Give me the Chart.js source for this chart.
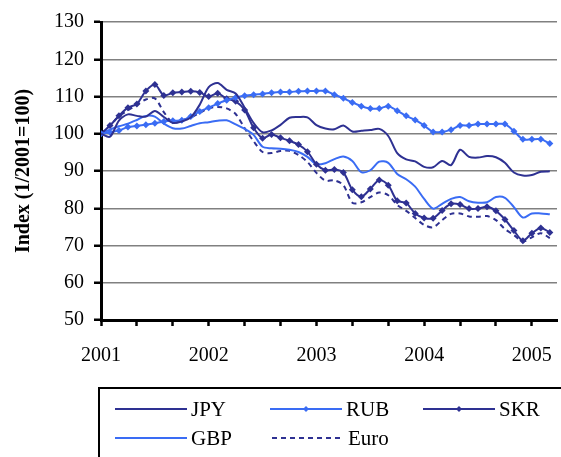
<!DOCTYPE html>
<html>
<head>
<meta charset="utf-8">
<script src="https://cdn.jsdelivr.net/npm/chart.js@4"></script>
<style>
  html, body { margin: 0; padding: 0; background: #fff; }
  canvas { display: block; }
</style>
</head>
<body>
<canvas id="fxChart" width="561" height="457"></canvas>
<script>
// --- Data: monthly index values, Jan 2001 = 100 ---
const yearLabels = ['2001', '2002', '2003', '2004', '2005'];
const seriesNames = ['JPY', 'RUB', 'SKR', 'GBP', 'Euro'];

const jpy = [100, 99.2, 103.5, 105.2, 104.8, 104.6, 106.1, 104.5, 102.9, 103.3, 104.4, 107.8,
  112.5, 113.6, 111.8, 110.8, 107, 102.9, 100.4, 100.9, 102.4, 104.3, 104.5, 104.4,
  102.3, 101.4, 101.2, 102.2, 100.6, 100.8, 101, 101.3, 99.4, 94.8, 93.1, 92.6,
  91.1, 91, 92.7, 91.6, 95.7, 93.8, 93.6, 94, 93.7, 92.2, 89.6, 88.8,
  88.9, 89.8, 89.9];
const rub = [100, 100.4, 100.9, 101.8, 102.1, 102.4, 102.8, 103.3, 103.5, 103.6, 104.6, 106,
  107, 108.1, 109, 109.7, 110.2, 110.5, 110.7, 111, 111.2, 111.2, 111.4, 111.5,
  111.5, 111.5, 110.5, 109.5, 108.4, 107.4, 106.8, 106.8, 107.4, 106.2, 104.8, 103.7,
  102.2, 100.5, 100.5, 101.1, 102.2, 102.2, 102.6, 102.6, 102.6, 102.6, 100.7, 98.5,
  98.5, 98.5, 97.4];
const skr = [100, 102.2, 104.8, 107, 108, 111.5, 113.2, 110.3, 111, 111.2, 111.4, 111.1,
  110, 110.9, 109.4, 108.7, 106.4, 101.6, 98.8, 99.8, 98.9, 98.1, 97.1, 95.2,
  91.8, 90.2, 90.4, 89.6, 85, 83.1, 85.2, 87.6, 86.2, 82, 81.4, 78.6,
  77.4, 77.3, 79.4, 81.2, 81, 79.9, 79.9, 80.4, 79.3, 77, 74, 71.3,
  73.3, 74.7, 73.5];
const gbp = [100, 101.1, 102, 102.7, 103.7, 104.8, 104.6, 102.7, 101.5, 101.4, 102.1, 102.8,
  103.1, 103.5, 103.6, 102.5, 101.3, 99.7, 96.5, 96.1, 96, 95.7, 95.1, 93.8,
  91.8, 92.1, 93.2, 93.9, 92.7, 89.7, 90.2, 92.5, 92.2, 89.2, 87.8, 85.8,
  82.5, 79.9, 81.2, 82.5, 83, 81.9, 81.5, 81.6, 83, 82.8, 80.3, 77.5,
  78.6, 78.6, 78.4];
const euro = [100, 102.2, 104.7, 106.3, 107.8, 109.2, 109.5, 105.8, 103, 103.6, 104.4, 105.6,
  106.8, 107.2, 106.8, 105.3, 101.5, 98, 95.1, 94.8, 95.4, 95.4, 94.3, 92.4,
  89.5, 87.4, 87.5, 86.2, 81.5, 81.6, 83, 84.2, 83.5, 80.9, 79.3, 77.4,
  75.5, 74.9, 76.8, 78.5, 78.6, 77.8, 77.7, 77.9, 76.8, 74.4, 72.8, 71.1,
  72.2, 73.3, 72];

const navy = '#2e3192';
const blue = '#3a6cf4';
const serif = '"Liberation Serif", "DejaVu Serif", serif';

// month index -> {x, y}
function toPoints(values) {
  return values.map((v, i) => ({ x: i, y: v }));
}

// Legenda desenhada à mão (caixa com duas linhas, como no original)
const boxLegend = {
  id: 'boxLegend',
  afterDraw(chart) {
    const ctx = chart.ctx;
    ctx.save();
    ctx.strokeStyle = '#000';
    ctx.lineWidth = 2;
    ctx.strokeRect(99, 388, 480, 100);

    const slots = [[115, 409], [270, 409], [423, 409], [115, 438], [272, 438]];
    chart.data.datasets.forEach((ds, k) => {
      const [x, y] = slots[k];
      ctx.strokeStyle = ds.borderColor;
      ctx.lineWidth = ds.borderWidth;
      ctx.setLineDash(ds.borderDash || []);
      ctx.beginPath();
      ctx.moveTo(x, y);
      ctx.lineTo(x + 72, y);
      ctx.stroke();
      ctx.setLineDash([]);
      if (ds.pointRadius > 0) {
        ctx.fillStyle = ds.borderColor;
        ctx.beginPath();
        ctx.moveTo(x + 36, y - 3);
        ctx.lineTo(x + 39, y);
        ctx.lineTo(x + 36, y + 3);
        ctx.lineTo(x + 33, y);
        ctx.closePath();
        ctx.fill();
      }
      ctx.fillStyle = '#000';
      ctx.font = '21px ' + serif;
      ctx.textBaseline = 'middle';
      ctx.fillText(ds.label, x + 76, y + 1);
    });
    ctx.restore();
  }
};

const whiteBg = {
  id: 'whiteBg',
  beforeDraw(chart) {
    const ctx = chart.ctx;
    ctx.save();
    ctx.fillStyle = '#fff';
    ctx.fillRect(0, 0, chart.width, chart.height);
    ctx.restore();
  }
};

function lineSet(label, values, color, extra) {
  return Object.assign({
    label: label,
    data: toPoints(values),
    borderColor: color,
    backgroundColor: color,
    borderWidth: 2,
    pointRadius: 0,
    tension: 0.3,
    fill: false
  }, extra || {});
}

const ctx = document.getElementById('fxChart').getContext('2d');
new Chart(ctx, {
  type: 'line',
  data: {
    datasets: [
      lineSet(seriesNames[0], jpy, navy),
      lineSet(seriesNames[1], rub, blue, { pointRadius: 3.5, pointStyle: 'rectRot', pointBorderWidth: 0 }),
      lineSet(seriesNames[2], skr, navy, { pointRadius: 3.5, pointStyle: 'rectRot', pointBorderWidth: 0 }),
      lineSet(seriesNames[3], gbp, blue),
      lineSet(seriesNames[4], euro, navy, { borderDash: [5, 4] })
    ]
  },
  plugins: [whiteBg, boxLegend],
  options: {
    responsive: false,
    animation: false,
    devicePixelRatio: 1,
    layout: { padding: { top: 22, right: 0, left: 0, bottom: 0 } },
    plugins: {
      legend: { display: false },
      tooltip: { enabled: false }
    },
    scales: {
      x: {
        type: 'linear',
        min: 0,
        max: 50.8,
        afterBuildTicks: (scale) => {
          const t = [];
          for (let v = 0; v <= 48; v += 4) t.push({ value: v });
          scale.ticks = t;
        },
        afterFit: (scale) => {
          scale.height = 137;
          scale.paddingRight = 0; // o gráfico original é cortado na borda direita
        },
        ticks: {
          autoSkip: false,
          maxRotation: 0,
          padding: 18,
          color: '#000',
          font: { family: serif, size: 20 },
          callback: (v) => (v % 12 === 0 ? yearLabels[v / 12] : '')
        },
        grid: {
          drawOnChartArea: false,
          drawTicks: true,
          tickLength: 6,
          tickColor: '#000',
          tickWidth: 2.5
        },
        border: { color: '#000', width: 3 }
      },
      y: {
        min: 50,
        max: 130,
        afterFit: (scale) => { scale.width = 101; },
        ticks: {
          stepSize: 10,
          padding: 10,
          color: '#000',
          font: { family: serif, size: 20 }
        },
        grid: {
          color: '#808080',
          lineWidth: 1.5,
          tickColor: '#000',
          tickLength: 7,
          tickWidth: 2.5
        },
        border: { color: '#000', width: 3 },
        title: {
          display: true,
          text: 'Index (1/2001=100)',
          color: '#000',
          font: { family: serif, size: 20, weight: 'bold' },
          padding: { top: 12, bottom: 0 }
        }
      }
    }
  }
});
</script>
</body>
</html>
